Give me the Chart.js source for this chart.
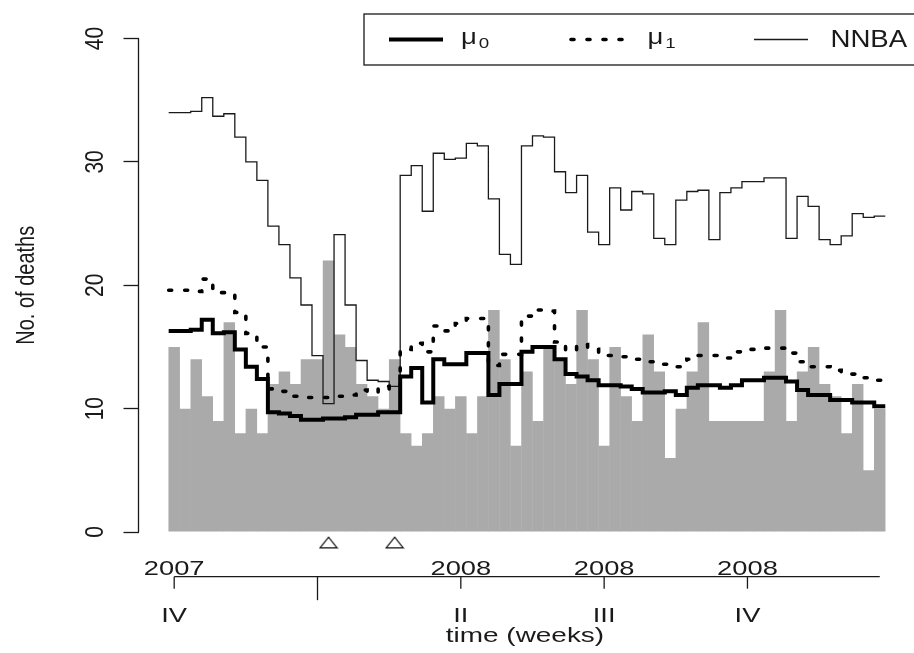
<!DOCTYPE html>
<html>
<head>
<meta charset="utf-8">
<script src="https://cdn.jsdelivr.net/npm/chart.js@4.4.0/dist/chart.umd.min.js"></script>
<style>
html,body{margin:0;padding:0;background:#ffffff;overflow:hidden}
#wrap{width:914px;height:653px;position:relative}
</style>
</head>
<body>
<div id="wrap"><canvas id="c" width="914" height="653"></canvas></div>
<script>
// ---------------- data ----------------
const weekIndex = [0,1,2,3,4,5,6,7,8,9,10,11,12,13,14,15,16,17,18,19,20,21,22,23,24,25,26,27,28,29,30,31,32,33,34,35,36,37,38,39,40,41,42,43,44,45,46,47,48,49,50,51,52,53,54,55,56,57,58,59,60,61,62,63,64];
const deaths = [15,10,14,11,9,17,8,10,8,12, 13,12,14,14,22,16,15,12,11,10, 14,8,7,8,11,10,11,8,11,18, 14,7,13,9,15,14,12,18,14,7, 15,11,9,16,13,6,10,13,17,9, 9,9,9,9,13,18,9,13,15,12, 11,8,12,5,10];
const mu0 = [16.3,16.3,16.4,17.2,16.1,16.2,14.8,13.4,12.4,9.7, 9.6,9.4,9.1,9.1,9.2,9.2,9.3,9.5,9.5,9.7, 9.7,12.6,13.3,10.5,14.0,13.6,13.6,14.5,14.5,11.1, 12.0,12.0,14.6,15.0,15.0,14.0,12.8,12.6,12.3,11.9, 11.9,11.8,11.6,11.3,11.3,11.4,11.1,11.7,11.9,11.9, 11.7,11.9,12.3,12.3,12.5,12.5,12.2,11.5,11.1,11.1, 10.7,10.7,10.5,10.5,10.2];
const mu1 = [19.6,19.6,19.5,20.5,19.4,19.4,17.8,16.1,15.0,11.6, 11.4,11.0,10.9,10.9,10.9,11.0,11.1,11.5,11.3,11.8, 11.6,14.8,15.3,14.6,16.7,16.3,16.9,17.3,17.3,13.5, 14.4,14.4,17.5,18.0,17.9,15.4,14.7,15.2,14.8,14.3, 14.3,14.2,14.0,13.8,13.6,13.6,13.4,14.0,14.3,14.3, 14.1,14.6,14.8,14.8,14.9,14.9,14.5,13.8,13.4,13.4, 13.1,12.8,12.8,12.5,12.3];
const nnba = [34.0,34.0,34.1,35.2,33.7,33.9,32.0,30.0,28.5,24.8, 23.3,20.6,18.4,14.3,10.4,24.1,18.4,13.9,12.3,12.2, 11.8,28.9,29.7,26.0,30.7,30.2,30.3,31.5,31.3,27.0, 22.5,21.7,31.3,32.1,32.0,29.2,27.5,28.9,24.3,23.3, 27.9,26.1,27.6,27.4,23.8,23.3,26.9,27.6,27.7,23.7, 27.5,27.9,28.4,28.4,28.7,28.7,23.8,27.2,26.4,23.7, 23.3,24.0,25.8,25.5,25.6];
const alarmWeeks = [14, 20];
const alarmLevel = -0.85;
const seriesNames = ['μ0', 'μ1', 'NNBA'];
const yTickValues = [0, 10, 20, 30, 40];
const xTickWeeks = [0, 13, 26, 39, 52];
const yearLabels = ['2007', '', '2008', '2008', '2008'];
const quarterLabels = ['IV', '', 'II', 'III', 'IV'];
const yTitle = 'No. of deaths';
const xTitle = 'time (weeks)';

// ---------------- helpers ----------------
const INK = '#1a1a1a';
const FONT = '"Liberation Sans", Arial, Helvetica, sans-serif';

// R type="s": each value is held across its week
function stepPoints(vals) {
  const pts = vals.map((v, i) => ({ x: weekIndex[i] - 0.5, y: v }));
  const last = vals.length - 1;
  pts.push({ x: weekIndex[last] + 0.5, y: vals[last] });
  return pts;
}

function sText(ctx, txt, x, y, o) {
  ctx.save();
  ctx.translate(x, y);
  ctx.scale(o.sx || 1, 1);
  if (o.rot) ctx.rotate(o.rot);
  ctx.font = o.font;
  ctx.textAlign = o.align || 'center';
  ctx.textBaseline = o.baseline || 'alphabetic';
  ctx.fillStyle = INK;
  ctx.fillText(txt, 0, 0);
  const w = ctx.measureText(txt).width * (o.sx || 1);
  ctx.restore();
  return w;
}

// open triangle marker (horizontally widened like the reference)
const tri = document.createElement('canvas');
tri.width = 20; tri.height = 13;
(function () {
  const t = tri.getContext('2d');
  t.strokeStyle = '#111';
  t.lineWidth = 1.2;
  t.beginPath();
  t.moveTo(1.5, 11.8); t.lineTo(18.5, 11.8); t.lineTo(10, 1.2); t.closePath();
  t.stroke();
})();

const X_MIN = -3.237, X_MAX = 66.29;

const rAxes = {
  id: 'rAxes',
  afterDraw(chart) {
    const { ctx, chartArea, scales: { x, y } } = chart;
    ctx.save();
    ctx.strokeStyle = INK;
    ctx.lineWidth = 1.3;

    // y axis line spanning the tick range
    const ax = chartArea.left;
    ctx.beginPath();
    ctx.moveTo(ax, y.getPixelForValue(yTickValues[0]));
    ctx.lineTo(ax, y.getPixelForValue(yTickValues[yTickValues.length - 1]));
    ctx.stroke();

    // y tick labels (parallel to axis)
    yTickValues.forEach(v => {
      sText(ctx, String(v), 102.5, y.getPixelForValue(v),
        { rot: -Math.PI / 2, sx: 1.25, font: '21px ' + FONT, align: 'center' });
    });
    // y title
    sText(ctx, yTitle, 34, y.getPixelForValue(20),
      { rot: -Math.PI / 2, sx: 1.33, font: '20px ' + FONT, align: 'center' });

    // x axis (R-style, below the plot)
    const axisY = 576.7;
    ctx.beginPath();
    ctx.moveTo(x.getPixelForValue(weekIndex[0]), axisY);
    ctx.lineTo(x.getPixelForValue(weekIndex[weekIndex.length - 1]), axisY);
    ctx.stroke();
    xTickWeeks.forEach((w, k) => {
      const px = x.getPixelForValue(w);
      const len = yearLabels[k] ? 12 : 23.5;
      ctx.beginPath();
      ctx.moveTo(px, axisY);
      ctx.lineTo(px, axisY + len);
      ctx.stroke();
      if (yearLabels[k]) sText(ctx, yearLabels[k], px, 575, { sx: 1.3, font: '21px ' + FONT });
      if (quarterLabels[k]) sText(ctx, quarterLabels[k], px, 621.7, { sx: 1.3, font: '21px ' + FONT });
    });
    sText(ctx, xTitle, x.getPixelForValue((weekIndex[0] + weekIndex[weekIndex.length - 1]) / 2) - 2, 642.3,
      { sx: 1.33, font: '21px ' + FONT });

    // legend box (R legend, horiz=TRUE, running off the right edge)
    ctx.lineWidth = 1.3;
    ctx.strokeRect(364, 14, 570, 51);
    const dsByName = {};
    chart.data.datasets.forEach(d => { dsByName[d.label] = d; });
    const lineX = [389, 569, 754];
    const textX = [461, 647.5, 830.5];
    const ly = 39.5;
    seriesNames.forEach((name, k) => {
      const d = dsByName[name];
      ctx.save();
      ctx.strokeStyle = d.borderColor;
      ctx.lineWidth = d.borderWidth;
      ctx.lineCap = d.borderCapStyle || 'butt';
      ctx.setLineDash(d.borderDash || []);
      ctx.beginPath();
      ctx.moveTo(lineX[k] + (d.borderDash ? 2 : 0), ly);
      ctx.lineTo(lineX[k] + 54, ly);
      ctx.stroke();
      ctx.restore();
      if (name.charAt(0) === 'μ') {
        const w = sText(ctx, 'μ', textX[k], 44, { sx: 1.25, font: '22px ' + FONT, align: 'left' });
        sText(ctx, name.slice(1), textX[k] + w + 2, 48, { sx: 1.25, font: '15px ' + FONT, align: 'left' });
      } else {
        sText(ctx, name, textX[k], 47.3, { sx: 1.2, font: '23px ' + FONT, align: 'left' });
      }
    });
    ctx.restore();
  }
};

new Chart(document.getElementById('c').getContext('2d'), {
  type: 'bar',
  data: {
    datasets: [
      {
        type: 'bar', label: 'deaths',
        data: weekIndex.map((w, i) => ({ x: w, y: deaths[i] })),
        backgroundColor: '#aaaaaa', borderWidth: 0,
        barPercentage: 1.04, categoryPercentage: 1, order: 5
      },
      {
        type: 'line', label: 'NNBA', data: stepPoints(nnba),
        borderColor: '#1a1a1a', borderWidth: 1.3, stepped: true,
        pointRadius: 0, fill: false, order: 3
      },
      {
        type: 'line', label: 'μ1', data: stepPoints(mu1),
        borderColor: '#000000', borderWidth: 3.6, borderDash: [3, 13], borderCapStyle: 'round',
        stepped: true, pointRadius: 0, fill: false, order: 2
      },
      {
        type: 'line', label: 'μ0', data: stepPoints(mu0),
        borderColor: '#000000', borderWidth: 4, stepped: true,
        pointRadius: 0, fill: false, order: 1
      },
      {
        type: 'line', label: 'alarm', showLine: false,
        data: alarmWeeks.map(w => ({ x: w, y: alarmLevel })),
        pointStyle: tri, pointRadius: 8, order: 0
      }
    ]
  },
  options: {
    responsive: false, animation: false, devicePixelRatio: 1,
    layout: { padding: { top: 18.76, bottom: 101.26, left: 0, right: 0 } },
    plugins: { legend: { display: false }, tooltip: { enabled: false } },
    scales: {
      x: { type: 'linear', display: false, min: X_MIN, max: X_MAX, offset: false },
      y: {
        type: 'linear', position: 'left', min: -1.6, max: 41.6,
        afterBuildTicks: s => { s.ticks = yTickValues.map(v => ({ value: v })); },
        afterFit: s => { s.width = 138.5; },
        grid: { drawOnChartArea: false, drawTicks: true, tickLength: 15, tickColor: INK, tickWidth: 1.3, color: INK },
        border: { display: false },
        ticks: { display: false }
      }
    }
  },
  plugins: [rAxes]
});
</script>
</body>
</html>
